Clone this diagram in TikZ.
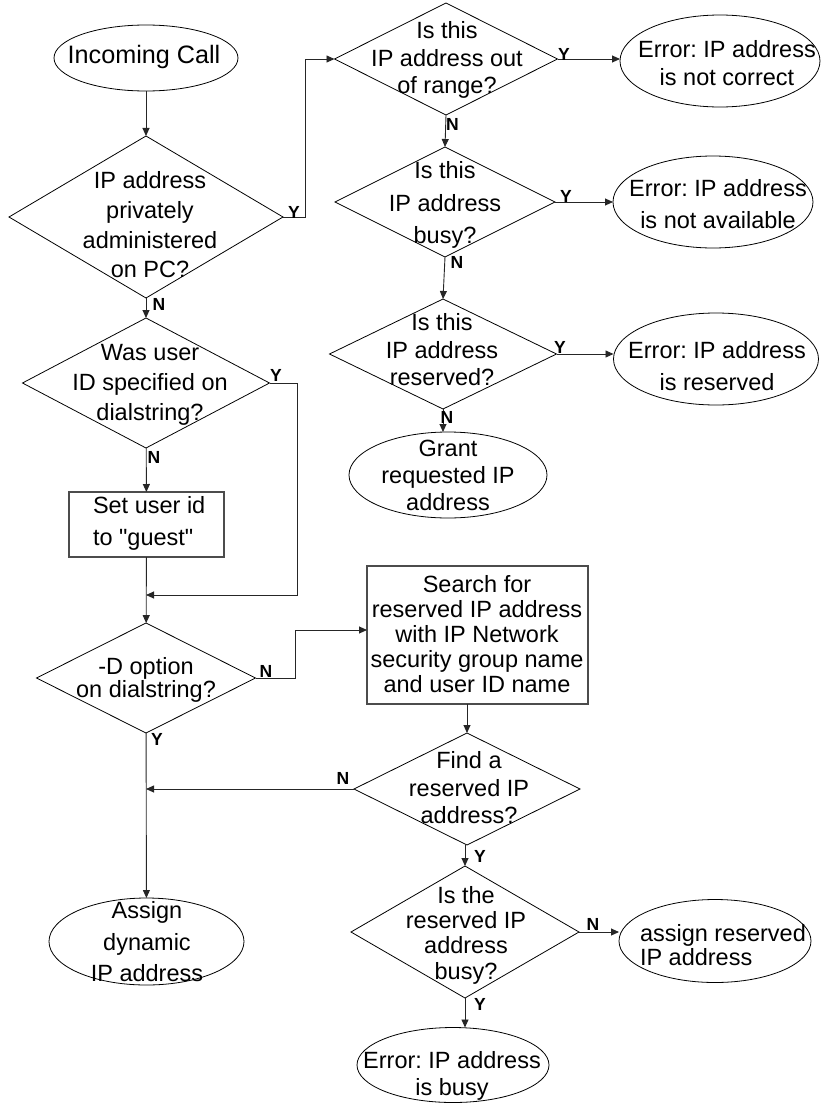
\documentclass[tikz,border=0pt]{standalone}
\usepackage{fontspec}
\setmainfont{Liberation Sans}[Ligatures=TeXOff]
\usetikzlibrary{shapes.geometric,arrows.meta}
\newcommand\fz[1]{\fontsize{23.5}{#1}\selectfont}

\begin{document}
\frenchspacing
\begin{tikzpicture}[x=1pt,y=-1pt,
  every node/.style={inner sep=0pt, outer sep=0pt},
  line/.style={draw=black!85, line width=0.9pt},
  arr/.style={line, -{Triangle[length=8pt,width=7pt]}},
  dec/.style={diamond, draw, line width=0.8pt},
  term/.style={ellipse, draw, line width=0.8pt},
  proc/.style={rectangle, draw=black!70, line width=1.2pt},
  txt/.style={align=center, font=\fz{29}},
  ltxt/.style={align=left, anchor=west, font=\fz{29}},
  yn/.style={font=\fontsize{17.5}{19}\selectfont\bfseries},
]
\useasboundingbox (0,0) rectangle (820,1103);

% ---- shapes ----
\node[term, minimum width=184pt, minimum height=66pt] (start) at (146,58) {};
\node[dec, minimum width=274pt, minimum height=162pt] (d1) at (146,217) {};
\node[dec, minimum width=223pt, minimum height=112pt] (d2) at (446,59) {};
\node[term, minimum width=200pt, minimum height=92pt] (e1) at (720,61) {};
\node[dec, minimum width=220pt, minimum height=110pt] (d3) at (445,202) {};
\node[term, minimum width=200pt, minimum height=92pt] (e2) at (713,202) {};
\node[dec, minimum width=227pt, minimum height=110pt] (d4) at (443,354) {};
\node[term, minimum width=205pt, minimum height=92pt] (e3) at (716,359) {};
\node[term, minimum width=198pt, minimum height=86pt] (grant) at (448,475) {};
\node[dec, minimum width=247pt, minimum height=130pt] (d5) at (146,383) {};
\node[proc, minimum width=155pt, minimum height=65pt] (box1) at (146.5,524.5) {};
\node[dec, minimum width=219pt, minimum height=110pt] (d6) at (146,678) {};
\node[proc, minimum width=221pt, minimum height=138pt] (search) at (477.5,635) {};
\node[dec, minimum width=226pt, minimum height=112pt] (d7) at (467,789) {};
\node[dec, minimum width=228pt, minimum height=132pt] (d8) at (465,932) {};
\node[term, minimum width=192pt, minimum height=83pt] (assign) at (715,941) {};
\node[term, minimum width=192pt, minimum height=75pt] (busy) at (453,1065) {};
\node[term, minimum width=195pt, minimum height=87pt] (dyn) at (146.5,941.5) {};

% ---- texts ----
\node[txt, font=\fontsize{25.2}{29}\selectfont] (tstart) at (144,56.5) {Incoming Call};
\node[txt, font=\fz{29.7}] (td1) at (150,225) {IP address\\privately\\administered\\on PC?};
\node[txt, font=\fz{27.5}] (td2) at (447,60) {Is this\\IP address out\\of range?};
\node[txt, font=\fz{28}] (te1) at (727,63.5) {Error: IP address\\is not correct};
\node[txt, font=\fz{32.5}] (td3) at (445,205) {Is this\\IP address\\busy?};
\node[txt, font=\fz{32}] (te2) at (718,204) {Error: IP address\\is not available};
\node[txt, font=\fz{27.5}] (td4) at (442,350) {Is this\\IP address\\reserved?};
\node[txt, font=\fz{32}] (te3) at (717,366) {Error: IP address\\is reserved};
\node[txt, font=\fz{27}] (tgrant) at (448,475) {Grant\\requested IP\\address};
\node[txt, font=\fz{30}] (td5) at (150,384.5) {Was user\\ID specified on\\dialstring?};
\node[ltxt, font=\fz{32}] (tbox1) at (93,523.5) {Set user id\\to "guest"};
\node[txt, font=\fz{23.5}] (td6) at (146,680) {-D option\\on dialstring?};
\node[txt, font=\fz{25.2}] (tsearch) at (477,634) {Search for\\reserved IP address\\with IP Network\\security group name\\and user ID name};
\node[txt, font=\fz{27.5}] (td7) at (469,788) {Find a\\reserved IP\\address?};
\node[txt, font=\fz{25.3}] (td8) at (466,935) {Is the\\reserved IP\\address\\busy?};
\node[ltxt, font=\fz{24}] (tassign) at (640,945) {assign reserved\\IP address};
\node[txt, font=\fz{27}] (tbusy) at (452,1076) {Error: IP address\\is busy};
\node[txt, font=\fz{31.5}] (tdyn) at (147,942) {Assign\\dynamic\\IP address};

% ---- junction points on the left trunk ----
\coordinate (j1) at (146,595);
\coordinate (j2) at (146,789);

% ---- connectors ----
\draw[arr] (start) -- (d1);
\draw[arr] (d1.east) -- ++(22,0) |- (d2.west);
\draw[arr] (d2.east) -- (d2.east -| e1.west);
\draw[arr] (d2.south) -- (d3.north);
\draw[arr] (d3.east) -- (d3.east -| e2.west);
\draw[arr] (d3.south) -- (d4.north);
\draw[arr] (d4.east) -- (d4.east -| e3.west);
\draw[arr] (d4.south) -- (d4.south |- grant.north);
\draw[arr] (d1) -- (d5);
\draw[arr] (d5.east) -- ++(28,0) |- (j1);
\draw[arr] (d5) -- (box1);
\draw[arr] (box1) -- (d6);
\draw[arr] (d6.east) -- ++(40,0) |- ([yshift=5pt]search.west);
\draw[arr] (d6) -- (dyn);
\draw[arr] (d7.north |- search.south) -- (d7.north);
\draw[arr] (d7.west) -- (j2);
\draw[arr] (d8.north |- d7.south) -- (d8.north);
\draw[arr] (d8.east) -- (d8.east -| assign.west);
\draw[arr] (d8.south) -- (d8.south |- busy.north);

% ---- branch labels ----
\node[yn] (ly1) at (294,212) {Y};
\node[yn] (ln1) at (159,304) {N};
\node[yn] (ly2) at (564,54) {Y};
\node[yn] (ln2) at (452.5,124) {N};
\node[yn] (ly3) at (566,196) {Y};
\node[yn] (ln3) at (457,262) {N};
\node[yn] (ly4) at (560,347) {Y};
\node[yn] (ln4) at (447,417) {N};
\node[yn] (ly5) at (276,375) {Y};
\node[yn] (ln5) at (154,457) {N};
\node[yn] (ln6) at (266,671) {N};
\node[yn] (ly6) at (157,739) {Y};
\node[yn] (ln7) at (343,778) {N};
\node[yn] (ly7) at (480,856) {Y};
\node[yn] (ln8) at (593,924) {N};
\node[yn] (ly8) at (480,1004) {Y};
\end{tikzpicture}
\end{document}
